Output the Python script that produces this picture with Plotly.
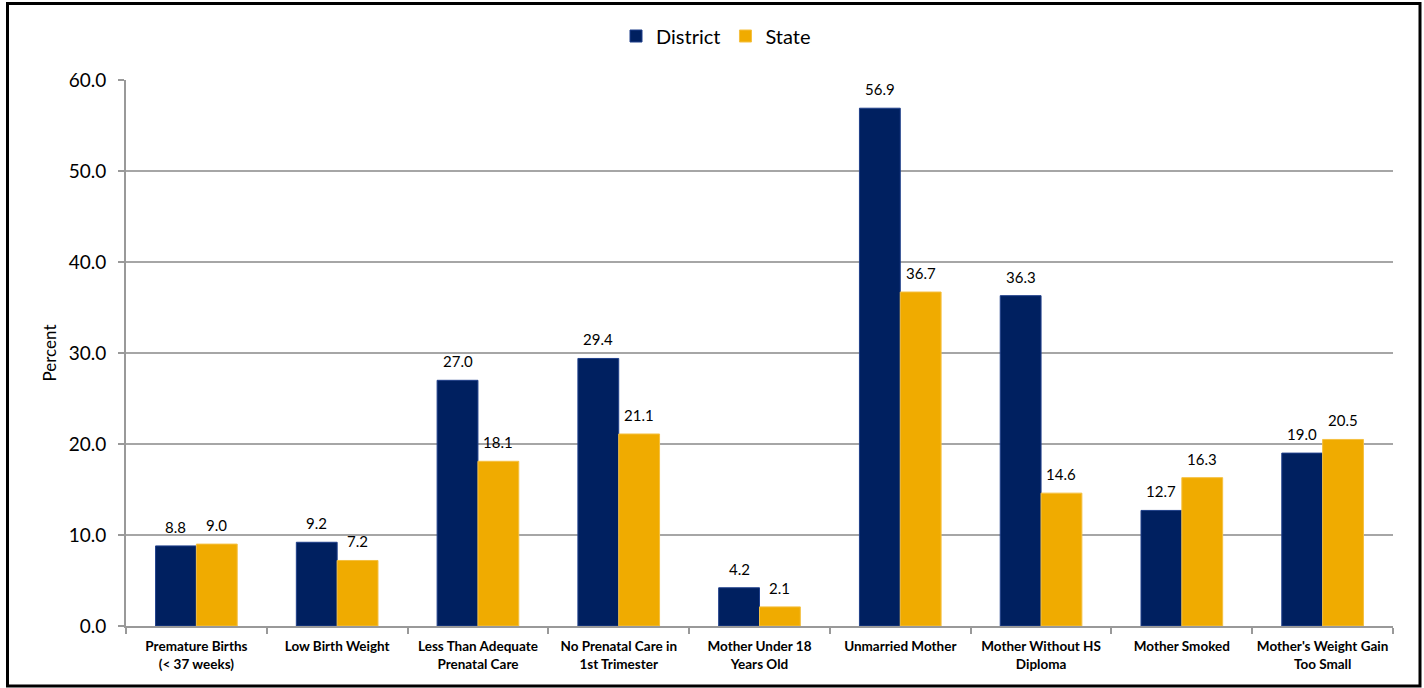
import plotly.graph_objects as go

categories = [
    "Premature Births<br>(< 37 weeks)",
    "Low Birth Weight",
    "Less Than Adequate<br>Prenatal Care",
    "No Prenatal Care in<br>1st Trimester",
    "Mother Under 18<br>Years Old",
    "Unmarried Mother",
    "Mother Without HS<br>Diploma",
    "Mother Smoked",
    "Mother's Weight Gain<br>Too Small",
]
district = [8.8, 9.2, 27.0, 29.4, 4.2, 56.9, 36.3, 12.7, 19.0]
state = [9.0, 7.2, 18.1, 21.1, 2.1, 36.7, 14.6, 16.3, 20.5]
y_ticks = [0, 10, 20, 30, 40, 50, 60]

FONT = "Lato"
W, H = 1424, 688
ml, mr, mt, mb = 126, 31, 80, 62
pw, ph = W - ml - mr, H - mt - mb
BARGAP = 0.42
off = (1 - BARGAP) / 4  # centre offset of each bar within its group

fig = go.Figure()
fig.add_trace(go.Bar(
    name="District", x=categories, y=district,
    marker=dict(color="#002060", line=dict(color="#1f3f8a", width=1)),
))
fig.add_trace(go.Bar(
    name="State", x=categories, y=state,
    marker=dict(color="#F0AB00", line=dict(color="#f5c040", width=1)),
))

annotations = []
for i, (d, s) in enumerate(zip(district, state)):
    for xv, v in ((i - off, d), (i + off, s)):
        annotations.append(dict(
            x=xv, y=v, xref="x", yref="y", text=f"{v:.1f}", showarrow=False,
            yanchor="bottom", yshift=8,
            font=dict(family=FONT, size=15, color="#000000"),
        ))

def px2x(p):  # pixel -> paper x
    return (p - ml) / pw

def px2y(p):  # pixel -> paper y
    return (H - mb - p) / ph

fig.update_layout(
    width=W, height=H,
    margin=dict(l=ml, r=mr, t=mt, b=mb, autoexpand=False),
    paper_bgcolor="white", plot_bgcolor="white",
    barmode="group", bargap=BARGAP, bargroupgap=0,
    font=dict(family=FONT, color="#000000"),
    showlegend=True,
    legend=dict(orientation="h", x=px2x(716), xanchor="center",
                y=px2y(36), yanchor="middle", itemwidth=30,
                font=dict(family=FONT, size=20), traceorder="normal"),
    xaxis=dict(
        showline=True, linecolor="#999999", linewidth=2,
        ticks="outside", tickson="boundaries", ticklen=6, tickcolor="#999999", tickwidth=2,
        tickangle=0, ticklabelstandoff=7, automargin=False,
        tickfont=dict(family=FONT, size=13.5, color="#000000", weight="bold"),
        showgrid=False,
    ),
    yaxis=dict(
        range=[0, 60], tickvals=y_ticks, tickformat=".1f",
        showline=True, linecolor="#999999", linewidth=2,
        ticks="outside", ticklen=6, tickcolor="#999999", tickwidth=2,
        ticklabelstandoff=8, automargin=False,
        showgrid=True, gridcolor="#a6a6a6", gridwidth=1.5,
        tickfont=dict(family=FONT, size=19, color="#000000"),
        title=dict(text="Percent", font=dict(family=FONT, size=17), standoff=8),
        zeroline=False,
    ),
    annotations=annotations,
    shapes=[dict(
        type="rect", xref="paper", yref="paper",
        x0=px2x(7.5), x1=px2x(1420), y0=px2y(686), y1=px2y(3.5),
        line=dict(color="#000000", width=3), fillcolor="rgba(0,0,0,0)", layer="above",
    )],
)

fig.write_html(
    "out.html",
    config={"displayModeBar": False},
    post_script="document.body.style.margin='0';document.body.style.overflow='hidden';",
)
